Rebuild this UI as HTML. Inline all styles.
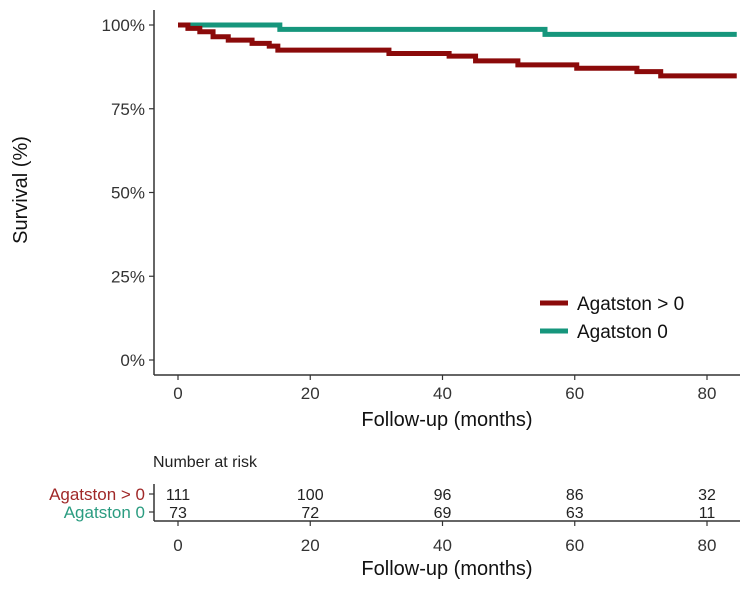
<!DOCTYPE html>
<html><head><meta charset="utf-8"><style>
body{margin:0;background:#fff;}
text{font-family:"Liberation Sans",sans-serif;}
</style></head><body>
<svg width="750" height="589" viewBox="0 0 750 589" xmlns="http://www.w3.org/2000/svg">
<g id="plot"></g>
</svg>
<script>
const xTicks=[0,20,40,60,80];
const yTicks=[0,25,50,75,100];
const redTimes=[0,1.5,3.3,5.3,7.6,11.2,13.8,15.1,31.9,41,45,51.4,60.3,69.4,73];
const redSurv=[100,99.0,98.0,96.5,95.5,94.5,93.7,92.5,91.5,90.7,89.3,88.1,87.1,86.1,84.8];
const tealTimes=[0,15.4,55.5];
const tealSurv=[100,98.7,97.2];
const endTime=84.5;
const riskRed=[111,100,96,86,32];
const riskTeal=[73,72,69,63,11];
const NS="http://www.w3.org/2000/svg";
const svg=document.querySelector('svg');
const X=t=>178+t*6.6125;
const Y=p=>360-p*3.35;
function mk(tag,attrs,txt){const e=document.createElementNS(NS,tag);for(const k in attrs)e.setAttribute(k,attrs[k]);if(txt!=null)e.textContent=txt;svg.appendChild(e);return e;}
// axes
let e=mk('line',{x1:154,y1:10,x2:154,y2:375,stroke:'#333','stroke-width':1.5});

e=mk('line',{x1:154,y1:375,x2:740,y2:375,stroke:'#333','stroke-width':1.5});

yTicks.forEach(v=>{
 let l=mk('line',{x1:149,x2:154,y1:Y(v),y2:Y(v),stroke:'#333','stroke-width':1.2});
 
 let t=mk('text',{x:145,y:Y(v)+6,'text-anchor':'end','font-size':17,fill:'#333'},v+'%');
 
});
xTicks.forEach(v=>{
 let l=mk('line',{x1:X(v),x2:X(v),y1:375,y2:380,stroke:'#333','stroke-width':1.2});
 
 let t=mk('text',{x:X(v),y:399,'text-anchor':'middle','font-size':17,fill:'#333'},v);
 
 let l2=mk('line',{x1:X(v),x2:X(v),y1:521,y2:526,stroke:'#333','stroke-width':1.2});
 
 let t2=mk('text',{x:X(v),y:551,'text-anchor':'middle','font-size':17,fill:'#333'},v);
 
});
e=mk('text',{x:447,y:426,'text-anchor':'middle','font-size':20,fill:'#111'},'Follow-up (months)');

e=mk('text',{x:0,y:0,'text-anchor':'middle','font-size':20,fill:'#111',transform:'translate(27,190) rotate(-90)'},'Survival (%)');

function stepPath(ts,ss){let d='M'+X(ts[0])+','+Y(ss[0]);for(let i=1;i<ts.length;i++){d+=' H'+X(ts[i])+' V'+Y(ss[i]);}d+=' H'+X(endTime);return d;}
e=mk('path',{d:stepPath(tealTimes,tealSurv),fill:'none',stroke:'#16967c','stroke-width':5});

e=mk('path',{d:stepPath(redTimes,redSurv),fill:'none',stroke:'#8b0a0a','stroke-width':5});

// legend
e=mk('line',{x1:540,x2:568,y1:303,y2:303,stroke:'#8b0a0a','stroke-width':5});

e=mk('text',{x:577,y:310,'font-size':19,fill:'#111'},'Agatston > 0');

e=mk('line',{x1:540,x2:568,y1:331,y2:331,stroke:'#16967c','stroke-width':5});

e=mk('text',{x:577,y:338,'font-size':19,fill:'#111'},'Agatston 0');

// risk table
e=mk('text',{x:153,y:467,'font-size':16,fill:'#222'},'Number at risk');

e=mk('line',{x1:154,y1:484,x2:154,y2:521,stroke:'#333','stroke-width':1.5});

e=mk('line',{x1:154,y1:521,x2:740,y2:521,stroke:'#333','stroke-width':1.5});

[[494,'Agatston > 0','#a02828',riskRed],[512,'Agatston 0','#2a9c80',riskTeal]].forEach(([y,lab,col,arr])=>{
 let l=mk('line',{x1:149,x2:154,y1:y,y2:y,stroke:'#333','stroke-width':1.2});
 
 let t=mk('text',{x:145,y:y+6,'text-anchor':'end','font-size':17,fill:col},lab);
 
 arr.forEach((v,i)=>{
  let c=mk('text',{x:X(xTicks[i]),y:y+6,'text-anchor':'middle','font-size':16,fill:'#222'},v);
  
 });
});
e=mk('text',{x:447,y:575,'text-anchor':'middle','font-size':20,fill:'#111'},'Follow-up (months)');

</script>
</body></html>
